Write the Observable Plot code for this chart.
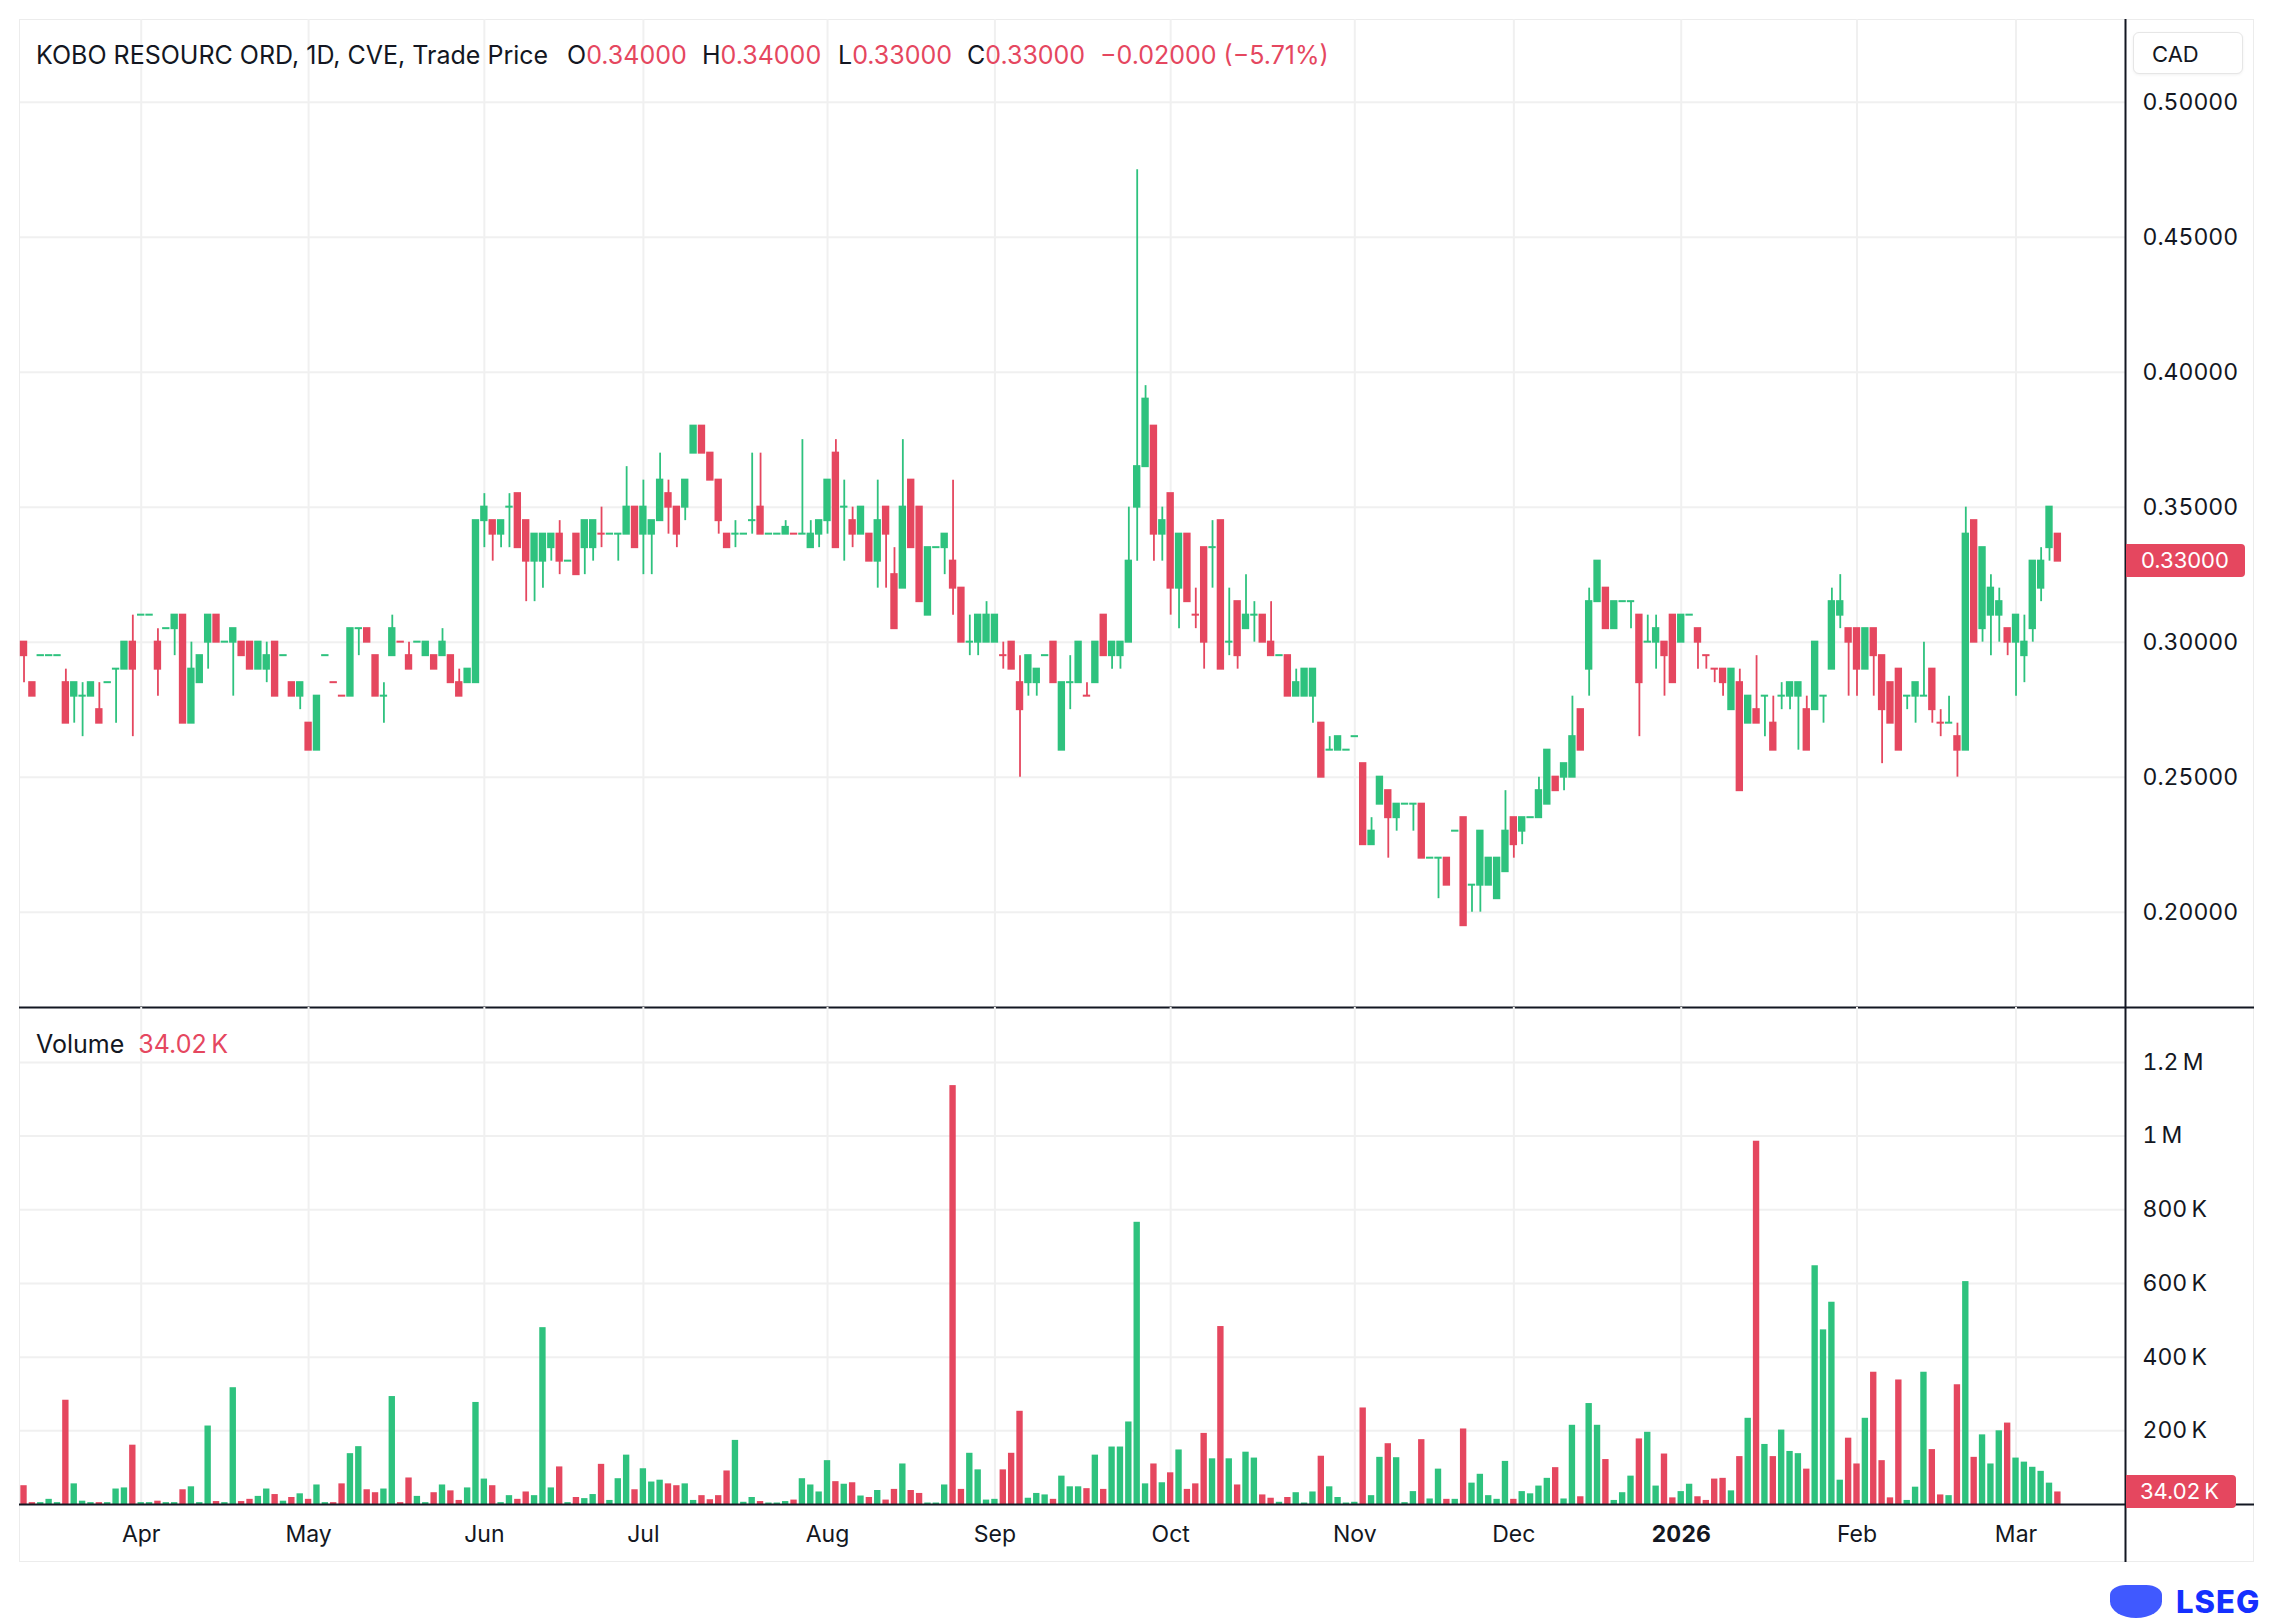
<!DOCTYPE html>
<html><head><meta charset="utf-8">
<script src="https://cdn.jsdelivr.net/npm/d3@7"></script>
<script src="https://cdn.jsdelivr.net/npm/@observablehq/plot@0.6"></script>
<style>
body{margin:0;background:#fff;font-family:Inter,"Noto Sans",sans-serif;color:#131722;}
#wrap{position:relative;width:2274px;height:1620px;overflow:hidden;}
#wrap svg{position:absolute;left:0;overflow:visible;}
.abs{position:absolute;white-space:nowrap;line-height:1;}
.red{color:#e5475f;}
</style></head><body><div id="wrap"></div>
<script>
// ---- data ----
const open = [
.30,.285,.295,.295,.295,.285,.28,.28,.28,.275,
.285,.29,.29,.30,.31,.31,.30,.305,.305,.31,
.27,.285,.30,.31,.30,.30,.30,.30,.29,.29,
.30,.295,.285,.28,.27,.26,.295,.285,.28,.28,
.305,.305,.295,.28,.295,.30,.295,.30,.295,.295,
.295,.295,.285,.285,.285,.345,.345,.34,.35,.355,
.345,.33,.33,.335,.34,.33,.34,.335,.335,.34,
.34,.34,.34,.35,.34,.34,.345,.355,.35,.35,
.37,.38,.37,.36,.34,.34,.34,.345,.35,.34,
.34,.34,.34,.34,.335,.34,.345,.37,.35,.345,
.34,.34,.33,.35,.325,.32,.36,.35,.31,.335,
.335,.33,.32,.30,.30,.30,.30,.295,.30,.285,
.285,.285,.295,.30,.26,.285,.285,.28,.285,.31,
.295,.295,.30,.35,.365,.38,.34,.355,.32,.34,
.31,.335,.335,.345,.30,.315,.305,.31,.31,.30,
.295,.295,.28,.28,.28,.27,.26,.26,.26,.265,
.255,.225,.24,.245,.235,.24,.24,.24,.22,.22,
.22,.23,.235,.21,.21,.21,.205,.215,.235,.23,
.235,.235,.24,.25,.25,.25,.275,.29,.315,.32,
.305,.315,.315,.31,.30,.30,.30,.31,.30,.31,
.305,.295,.29,.29,.275,.285,.27,.275,.28,.27,
.28,.28,.28,.275,.275,.28,.29,.31,.305,.305,
.29,.305,.295,.285,.29,.28,.28,.28,.29,.27,
.27,.265,.26,.345,.305,.31,.31,.305,.30,.295,
.305,.32,.335,.34];
const high = [
.30,.285,.295,.295,.295,.29,.285,.285,.285,.285,
.285,.29,.30,.31,.31,.31,.305,.305,.31,.31,
.30,.295,.31,.31,.30,.305,.30,.30,.30,.30,
.30,.295,.285,.285,.27,.28,.295,.285,.28,.305,
.305,.305,.295,.285,.31,.30,.30,.30,.30,.295,
.305,.295,.29,.29,.345,.355,.345,.345,.355,.355,
.345,.34,.34,.34,.345,.33,.34,.345,.345,.35,
.34,.34,.365,.35,.36,.345,.37,.36,.35,.36,
.38,.38,.37,.36,.34,.345,.34,.37,.37,.34,
.34,.345,.34,.375,.345,.345,.36,.375,.36,.35,
.35,.34,.36,.35,.335,.375,.36,.35,.335,.335,
.34,.36,.32,.31,.31,.315,.31,.30,.30,.295,
.295,.29,.295,.30,.285,.295,.30,.285,.30,.31,
.30,.30,.35,.475,.395,.38,.35,.355,.34,.34,
.32,.335,.345,.345,.32,.315,.325,.315,.31,.315,
.295,.295,.29,.29,.29,.27,.265,.265,.26,.265,
.255,.235,.25,.245,.24,.24,.24,.24,.22,.22,
.22,.23,.235,.21,.23,.22,.22,.245,.235,.235,
.235,.25,.26,.25,.255,.28,.275,.32,.33,.32,
.315,.315,.315,.31,.31,.31,.30,.31,.31,.31,
.305,.295,.29,.29,.29,.29,.28,.295,.28,.28,
.285,.285,.285,.28,.30,.28,.32,.325,.305,.305,
.305,.305,.295,.285,.29,.28,.285,.30,.29,.275,
.28,.27,.35,.345,.335,.325,.32,.305,.31,.31,
.33,.335,.35,.34];
const low = [
.285,.28,.295,.295,.295,.27,.27,.265,.28,.27,
.285,.27,.29,.265,.31,.31,.28,.305,.295,.27,
.27,.285,.29,.30,.30,.28,.295,.29,.29,.285,
.28,.295,.28,.275,.26,.26,.295,.285,.28,.28,
.295,.30,.28,.27,.295,.30,.29,.30,.295,.29,
.295,.285,.28,.285,.285,.335,.33,.335,.335,.335,
.315,.315,.32,.33,.325,.33,.325,.325,.33,.335,
.34,.33,.34,.335,.325,.325,.345,.34,.335,.345,
.37,.37,.36,.34,.335,.335,.34,.34,.34,.34,
.34,.34,.34,.34,.335,.335,.34,.335,.33,.335,
.34,.33,.32,.32,.305,.32,.335,.315,.31,.335,
.325,.31,.30,.295,.295,.30,.30,.29,.29,.25,
.28,.28,.295,.285,.26,.275,.285,.28,.285,.295,
.29,.29,.30,.33,.365,.33,.33,.31,.305,.315,
.305,.29,.32,.29,.295,.29,.305,.30,.30,.295,
.295,.28,.28,.28,.27,.25,.26,.26,.26,.265,
.225,.225,.24,.22,.23,.24,.23,.22,.22,.205,
.21,.23,.195,.20,.20,.21,.205,.215,.22,.225,
.235,.235,.24,.245,.245,.25,.26,.28,.315,.305,
.305,.315,.305,.265,.30,.29,.28,.285,.30,.31,
.29,.29,.285,.28,.275,.245,.27,.27,.265,.26,
.275,.275,.26,.26,.275,.27,.29,.305,.28,.28,
.29,.28,.255,.27,.26,.275,.27,.28,.27,.265,
.27,.25,.26,.30,.30,.295,.30,.295,.28,.285,
.30,.315,.33,.33];
const close = [
.295,.28,.295,.295,.295,.27,.285,.28,.285,.27,
.285,.29,.30,.29,.31,.31,.29,.305,.31,.27,
.29,.295,.31,.30,.30,.305,.295,.29,.30,.295,
.28,.295,.28,.285,.26,.28,.295,.285,.28,.305,
.305,.30,.28,.28,.305,.30,.29,.30,.30,.29,
.30,.285,.28,.29,.345,.35,.34,.345,.35,.335,
.33,.34,.34,.34,.33,.33,.325,.345,.345,.34,
.34,.34,.35,.335,.35,.345,.36,.35,.34,.36,
.38,.37,.36,.345,.335,.34,.34,.345,.34,.34,
.34,.3425,.34,.34,.34,.345,.36,.335,.35,.34,
.35,.33,.345,.34,.305,.35,.335,.315,.335,.335,
.34,.32,.30,.30,.31,.31,.31,.295,.29,.275,
.295,.29,.295,.285,.285,.285,.30,.28,.30,.295,
.30,.30,.33,.365,.39,.34,.345,.32,.34,.315,
.31,.30,.335,.29,.30,.295,.31,.31,.30,.295,
.295,.28,.285,.29,.29,.25,.26,.265,.26,.265,
.225,.23,.25,.235,.24,.24,.24,.22,.22,.22,
.21,.23,.195,.21,.23,.22,.22,.23,.225,.235,
.235,.245,.26,.245,.255,.265,.26,.315,.33,.305,
.315,.315,.315,.285,.30,.305,.295,.285,.31,.31,
.30,.295,.29,.285,.29,.245,.28,.27,.28,.26,
.28,.285,.285,.26,.30,.28,.315,.315,.30,.29,
.305,.295,.275,.27,.26,.28,.285,.28,.275,.27,
.27,.26,.34,.30,.335,.32,.315,.30,.31,.30,
.33,.33,.35,.33];
// volume in thousands
const volumeK = [
51,5,5,14,5,283,56,9,5,5,
5,42,45,161,5,5,9,5,5,40,
48,5,213,8,5,317,8,14,22,42,
27,9,19,29,14,53,5,5,56,138,
157,40,32,42,293,5,72,22,5,32,
53,37,11,45,277,69,51,5,24,14,
34,24,480,45,102,5,19,16,27,109,
11,70,134,40,97,61,66,56,51,56,
11,24,13,24,91,174,6,19,8,4,
4,8,12,70,53,34,119,62,55,59,
23,19,38,12,41,110,38,30,4,4,
53,1137,41,139,94,12,14,94,139,253,
17,30,26,14,77,48,48,43,134,41,
156,156,224,766,56,110,59,86,148,41,
56,193,124,483,124,53,142,126,26,17,
6,19,32,4,34,131,48,19,4,6,
262,24,128,165,127,5,35,176,15,96,
14,14,205,58,82,24,14,117,14,35,
29,50,71,100,15,215,21,274,215,122,
11,32,77,178,196,50,137,18,35,55,
21,11,69,71,37,130,234,986,163,130,
202,144,138,96,648,474,549,66,180,110,
234,359,119,18,338,11,47,359,149,26,
24,325,605,128,189,110,200,221,126,115,
101,90,58,34.02];
// unchanged (open == close) sessions drawn in red
const flatDown = [37,38,45,69,92,117,127,140,201,202,229];
// month tick positions (bar index of first session) and labels
const monthIdx = [14,34,55,74,96,116,137,159,178,198,219,238];
const monthLabels = ["Apr","May","Jun","Jul","Aug","Sep","Oct","Nov","Dec","2026","Feb","Mar"];
const boldLabels = ["2026"];
const priceTicks = [0.20,0.25,0.30,0.35,0.40,0.45,0.50];
const volumeTicks = [200,400,600,800,1000,1200];
const lastPrice = 0.33, lastVolumeK = 34.02;

// ---- drawing ----
const GREEN = "#2ec27e", RED = "#e5475f", INK = "#131722", GRID = "#f0f0f0";
const N = close.length;
const idx = d3.range(N);
const up = idx.map(i => close[i] > open[i] || (close[i] === open[i] && !flatDown.includes(i)));
const col = i => up[i] ? GREEN : RED;
const W = 2274;
const xDomain = [-0.42, 251.08];
const yDomain = [0.1647, 0.5306];
const labelOf = i => monthLabels[monthIdx.indexOf(i)];
const normalIdx = monthIdx.filter(i => !boldLabels.includes(labelOf(i)));
const boldIdx = monthIdx.filter(i => boldLabels.includes(labelOf(i)));
const style = {fontFamily: "Inter, 'Noto Sans', sans-serif", fontSize: "23px", color: INK, background: "none", overflow: "visible"};

const price = Plot.plot({
  width: W, height: 1007, marginLeft: 20, marginRight: 149, marginTop: 19, marginBottom: 0,
  x: {type: "linear", domain: xDomain, axis: null},
  y: {domain: yDomain},
  color: {type: "identity"},
  style,
  marks: [
    Plot.ruleX(monthIdx, {stroke: GRID, strokeWidth: 2}),
    Plot.ruleY(priceTicks, {stroke: GRID, strokeWidth: 2}),
    Plot.axisY(priceTicks, {anchor: "right", tickSize: 0, tickPadding: 17, tickFormat: d3.format(".5f")}),
    Plot.ruleX(idx, {x: i => i, y1: i => low[i], y2: i => high[i], stroke: col, strokeWidth: 1.8}),
    Plot.rect(idx, {x1: i => i - 0.44, x2: i => i + 0.44,
      y1: i => Math.min(open[i], close[i]), y2: i => Math.max(open[i], close[i]),
      fill: col, insetTop: -1, insetBottom: -1}),
    Plot.ruleX([xDomain[1]], {stroke: INK, strokeWidth: 2}),
    Plot.ruleY([yDomain[0]], {stroke: INK, strokeWidth: 2, insetRight: -129, insetLeft: -1})
  ]
});
price.style.top = "0px";

const volume = Plot.plot({
  width: W, height: 555, marginLeft: 20, marginRight: 149, marginTop: 0, marginBottom: 58,
  x: {type: "linear", domain: xDomain},
  y: {domain: [0, 1349]},
  color: {type: "identity"},
  style,
  marks: [
    Plot.ruleX(monthIdx, {stroke: GRID, strokeWidth: 2}),
    Plot.ruleY(volumeTicks, {stroke: GRID, strokeWidth: 2}),
    Plot.axisY(volumeTicks, {anchor: "right", tickSize: 0, tickPadding: 17,
      tickFormat: v => v >= 1000 ? `${v / 1000}\u2009M` : `${v}\u2009K`}),
    Plot.rectY(idx, {x1: i => i - 0.38, x2: i => i + 0.38, y: i => volumeK[i], fill: col}),
    Plot.axisX(normalIdx, {tickSize: 0, tickPadding: 21, tickFormat: labelOf}),
    Plot.axisX(boldIdx, {tickSize: 0, tickPadding: 21, tickFormat: labelOf, fontWeight: "bold"}),
    Plot.ruleY([0], {stroke: INK, strokeWidth: 2, insetRight: -129, insetLeft: -1}),
    Plot.ruleX([xDomain[1]], {stroke: INK, strokeWidth: 2, insetBottom: -58})
  ]
});
volume.style.top = "1007px";

const wrap = document.getElementById("wrap");
const panel = document.createElement("div");
panel.className = "abs";
Object.assign(panel.style, {left: "19px", top: "19px", width: "2235px", height: "1543px", border: "1px solid #ececec", boxSizing: "border-box"});
wrap.appendChild(panel);
wrap.appendChild(price);
wrap.appendChild(volume);

function addText(html, left, top, css = {}) {
  const d = document.createElement("div");
  d.className = "abs";
  d.innerHTML = html;
  Object.assign(d.style, {left: left + "px", top: top + "px", fontSize: "25px"}, css);
  wrap.appendChild(d);
  return d;
}
const f5 = d3.format(".5f");
const prevClose = close[N - 2], chg = close[N - 1] - prevClose;
addText("KOBO RESOURC ORD, 1D, CVE, Trade Price", 36, 43);
addText(`O<span class="red">${f5(open[N-1])}</span>`, 567, 43);
addText(`H<span class="red">${f5(high[N-1])}</span>`, 702, 43);
addText(`L<span class="red">${f5(low[N-1])}</span>`, 838, 43);
addText(`C<span class="red">${f5(close[N-1])}</span>`, 967, 43);
addText(`<span class="red">${f5(chg)} (\u2212${Math.abs(chg / prevClose * 100).toFixed(2)}%)</span>`, 1100, 43);
addText(`Volume&nbsp;&nbsp;<span class="red">${lastVolumeK.toFixed(2)}\u2009K</span>`, 36, 1032);

// CAD box
addText("CAD", 2133, 32, {width: "110px", height: "42px", lineHeight: "42px", paddingLeft: "18px", boxSizing: "border-box",
  border: "1px solid #e6e6e6", borderRadius: "6px", fontSize: "22px", background: "#fff", boxShadow: "0 1px 3px rgba(0,0,0,0.06)"});

// last price / last volume tags
const yP = price.scale("y").apply(lastPrice);
addText(f5(lastPrice), 2126, yP - 16.5, {width: "119px", height: "33px", lineHeight: "33px", paddingLeft: "15px", boxSizing: "border-box",
  background: RED, color: "#fff", borderRadius: "0 4px 4px 0", fontSize: "22px"});
const yV = 1007 + volume.scale("y").apply(lastVolumeK);
addText(`${lastVolumeK.toFixed(2)}\u2009K`, 2126, yV - 16.5, {width: "110px", height: "33px", lineHeight: "33px", paddingLeft: "14px", boxSizing: "border-box",
  background: RED, color: "#fff", borderRadius: "0 4px 4px 0", fontSize: "22px"});

// LSEG mark
addText("", 2110, 1585, {width: "52px", height: "33px", background: "#1f3cff", borderRadius: "30% 30% 50% 50%", opacity: "0.85"});
addText("LSEG", 2176, 1586, {fontSize: "31px", fontWeight: "800", color: "#1430ff", letterSpacing: "1px"});
</script></body></html>
